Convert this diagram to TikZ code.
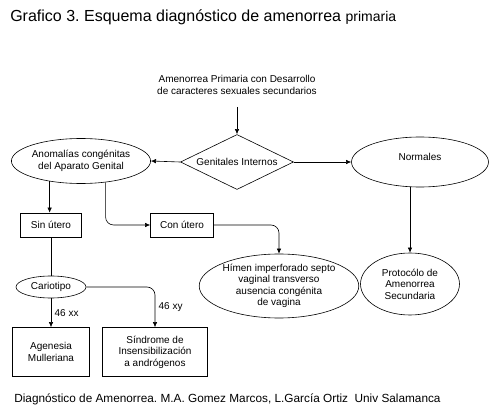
\documentclass[tikz,border=0pt]{standalone}
\usepackage{fontspec}
\setmainfont{Liberation Sans}
\frenchspacing
\usetikzlibrary{positioning}
\usetikzlibrary{arrows.meta}
\usetikzlibrary{shapes.geometric}
\tikzset{>={Latex[width=1.6mm,length=1.8mm]}}

\begin{document}
\begin{tikzpicture}[x=1pt, y=-1pt, line width=0.6pt,
	every node/.style={font=\fontsize{10}{11.5}\selectfont, align=center}]
	\useasboundingbox (0,0) rectangle (491,412);
	\node (TIT) [anchor=base west, inner sep=0, font=\fontsize{16}{18}\selectfont] at (10,22) {Grafico 3. Esquema diagnóstico de amenorrea {\fontsize{14}{16}\selectfont primaria}};
	\node (AP) at (237,85) {Amenorrea Primaria con Desarrollo\\ de caracteres sexuales secundarios};
	\coordinate (IN) at (237,107);
	\node (GI) [draw, diamond, aspect=3, minimum width=113pt, minimum height=55pt, inner sep=0] at (237,162) {Genitales Internos};
	\node (ACG) [draw, ellipse, minimum width=128pt, minimum height=45pt, inner sep=0] at (81,161) {Anomalías congénitas\\ del Aparato Genital};
	\node (NOR) [draw, ellipse, minimum width=137pt, minimum height=50pt, inner sep=0] at (420,162) {Normales\\[-2pt]};
	\node (SIN) [draw, minimum width=61pt, minimum height=24pt] at (51,225) {Sin útero};
	\node (CON) [draw, minimum width=63pt, minimum height=24pt] at (182,225) {Con útero};
	\node (HIM) [draw, ellipse, minimum width=158pt, minimum height=64pt, inner sep=0] at (279,286) {Hímen imperforado septo\\ vaginal transverso\\ ausencia congénita\\ de vagina};
	\node (PRO) [draw, ellipse, minimum width=99pt, minimum height=62pt, inner sep=0] at (410,284) {Protocólo de\\ Amenorrea\\ Secundaria};
	\node (CAR) [draw, ellipse, minimum width=70pt, minimum height=22pt, inner sep=0] at (51,287) {Cariotipo};
	\node (AGE) [draw, minimum width=77pt, minimum height=49pt] at (51,352) {Agenesia\\ Mulleriana};
	\node (SIS) [draw, minimum width=105pt, minimum height=49pt] at (155,352) {Síndrome de\\ Insensibilización\\ a andrógenos};
	\node (FOOT) [anchor=base west, inner sep=0, font=\fontsize{11.8}{14}\selectfont] at (14,402) {Diagnóstico de Amenorrea. M.A. Gomez Marcos, L.García Ortiz\ \ Univ Salamanca};

	\path [draw, ->] (IN) -- (GI.north);
	\path [draw, ->] (GI.west) -- (ACG.east);
	\path [draw, ->] (GI.east) -- (NOR.west);
	\path [draw, ->] (NOR.south -| PRO.north) -- (PRO.north);
	\path [draw, ->] (ACG.213) -- (ACG.213 |- SIN.north);
	\path [draw, ->, rounded corners=8pt] (ACG.-41) |- (CON.west);
	\path [draw, ->, rounded corners=8pt] (CON.east) -| (HIM.north);
	\path [draw] (SIN.south) -- (CAR.north);
	\path [draw, ->] (CAR) -- node [right] {46 xx} (AGE);
	\path [draw, ->, rounded corners=8pt] (CAR.east) -| node [pos=0.75, right] {46 xy} (SIS.north);
\end{tikzpicture}
\end{document}
